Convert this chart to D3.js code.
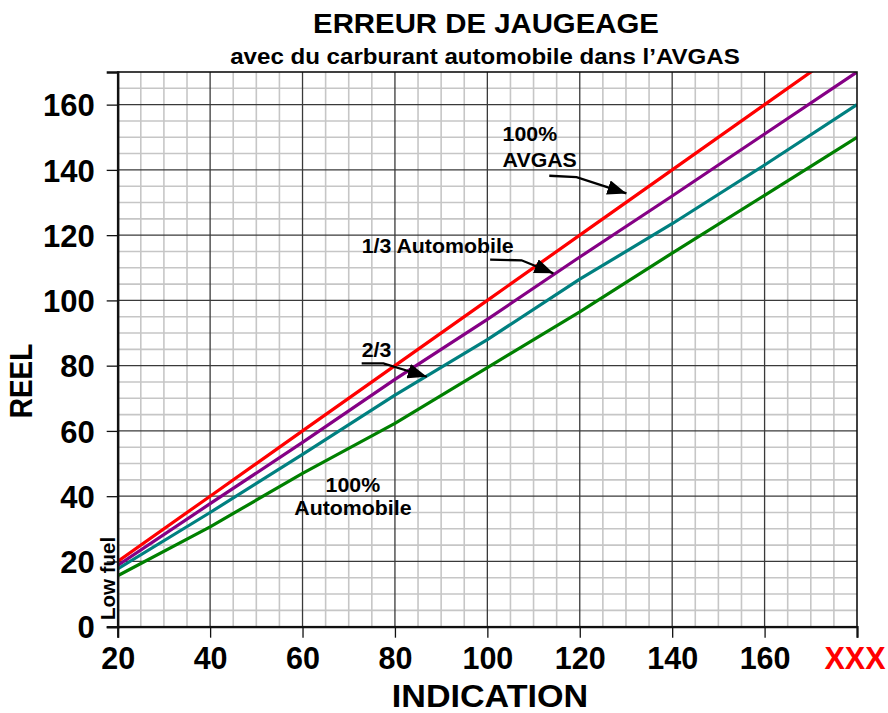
<!DOCTYPE html>
<html>
<head>
<meta charset="utf-8">
<script src="https://cdn.jsdelivr.net/npm/d3@7/dist/d3.min.js"></script>
<style>
  body { margin: 0; background: #fff; }
  text { font-family: Arial, "Liberation Sans", sans-serif; font-weight: bold; }
</style>
</head>
<body>
<svg id="chart" width="888" height="713"></svg>
<script>
// Gauge reading (INDICATION) vs actual fuel (REEL)
const indication = [20, 40, 60, 80, 100, 120, 140, 160, 180];
const avgas100   = [20, 40, 60, 80, 100, 120, 140, 160, 180];
const auto13     = [18.8, 37.7, 56.5, 75.8, 94.2, 113.3, 132, 151, 170];
const auto23     = [17.7, 35, 52.8, 71, 88, 106.5, 123.5, 141.5, 160];
const auto100    = [15.6, 30.6, 47, 62.3, 79.4, 96.5, 114.5, 132.2, 150];

const xTicks = [20, 40, 60, 80, 100, 120, 140, 160, 180];
const xTickLabels = ["20", "40", "60", "80", "100", "120", "140", "160", "XXX"];
const yTicks = [0, 20, 40, 60, 80, 100, 120, 140, 160];

const seriesNames = ["100% AVGAS", "1/3 Automobile", "2/3", "100% Automobile"];
const seriesValues = [avgas100, auto13, auto23, auto100];
const seriesColors = ["#ff0000", "#850085", "#008080", "#008000"];

// Annotation labels, in data units [indication, reel]
const labelText = ["100%", "AVGAS", "1/3 Automobile", "2/3", "100%", "Automobile"];
const labelPos  = [[103.3, 148.9], [103.3, 140.9], [72.8, 114.4], [72.8, 82.7], [70.9, 41.4], [70.9, 34.2]];
const labelAnchor = ["start", "start", "start", "start", "middle", "middle"];

// Leader arrows: start, elbow, tip (data units)
const arrows = [
  [[113.4, 138.2], [119.3, 137.8], [130.1, 132.8]],
  [[100.6, 112.5], [107.4, 112.3], [114.3, 108.3]],
  [[72.8, 80.7],   [77.5, 80.7],   [86.9, 76.6]]
];

const svg = d3.select("#chart");
const W = 888, H = 713;
const plot = { left: 117.7, right: 857, top: 72, bottom: 626.7 };

const x = d3.scaleLinear().domain([20, 180]).range([plot.left, plot.right]);
const y = d3.scaleLinear().domain([0, 170]).range([plot.bottom, plot.top]);

// Adjust the set width of a text run
function stretch(sel, k) {
  sel.each(function () {
    const w = this.getComputedTextLength();
    this.setAttribute("textLength", w * k);
    this.setAttribute("lengthAdjust", "spacingAndGlyphs");
  });
}

svg.append("rect").attr("width", W).attr("height", H).attr("fill", "#fff");

// Minor grid every 5 units
const minorX = d3.range(25, 180, 5).filter(v => v % 20 !== 0);
const minorY = d3.range(5, 170, 5).filter(v => v % 20 !== 0);
const grid = svg.append("g");
grid.selectAll("line.mx").data(minorX).join("line")
  .attr("x1", d => x(d)).attr("x2", d => x(d))
  .attr("y1", plot.top).attr("y2", plot.bottom)
  .attr("stroke", "#c6c6c6").attr("stroke-width", 1.6);
grid.selectAll("line.my").data(minorY).join("line")
  .attr("y1", d => y(d)).attr("y2", d => y(d))
  .attr("x1", plot.left).attr("x2", plot.right)
  .attr("stroke", "#c6c6c6").attr("stroke-width", 1.6);

// Major grid every 20 units
grid.selectAll("line.Mx").data(xTicks.slice(1, -1)).join("line")
  .attr("x1", d => x(d)).attr("x2", d => x(d))
  .attr("y1", plot.top).attr("y2", plot.bottom)
  .attr("stroke", "#3a3a3a").attr("stroke-width", 1.3);
grid.selectAll("line.My").data(yTicks.slice(1)).join("line")
  .attr("y1", d => y(d)).attr("y2", d => y(d))
  .attr("x1", plot.left).attr("x2", plot.right)
  .attr("stroke", "#3a3a3a").attr("stroke-width", 1.3);

// Curves
svg.append("clipPath").attr("id", "clip").append("rect")
  .attr("x", plot.left).attr("y", plot.top)
  .attr("width", plot.right - plot.left).attr("height", plot.bottom - plot.top);

const line = d3.line().x((d, i) => x(indication[i])).y(d => y(d));
svg.append("g").attr("clip-path", "url(#clip)")
  .selectAll("path").data(seriesValues).join("path")
  .attr("d", line)
  .attr("fill", "none")
  .attr("stroke", (d, i) => seriesColors[i])
  .attr("stroke-width", 3.2)
  .attr("stroke-linejoin", "round")
  .append("title").text((d, i) => seriesNames[i]);

// Frame
svg.append("rect")
  .attr("x", plot.left).attr("y", plot.top)
  .attr("width", plot.right - plot.left).attr("height", plot.bottom - plot.top)
  .attr("fill", "none").attr("stroke", "#111").attr("stroke-width", 1.6);

// Axes
const xAxis = d3.axisBottom(x).tickValues(xTicks).tickSize(11).tickPadding(9)
  .tickFormat((d, i) => xTickLabels[i]);
const gx = svg.append("g").attr("transform", `translate(0,${plot.bottom})`).call(xAxis);
gx.select(".domain").attr("stroke", "#111").attr("stroke-width", 2.2);
gx.selectAll(".tick line").attr("stroke", "#111").attr("stroke-width", 1.3);
gx.selectAll(".tick text")
  .attr("font-size", 30.5).attr("y", 42).attr("dy", 0)
  .attr("x", (d, i) => i === xTicks.length - 1 ? -2.5 : 0)
  .attr("fill", (d, i) => i === xTicks.length - 1 ? "#ff0000" : "#000");

const yAxis = d3.axisLeft(y).tickValues(yTicks).tickSize(11).tickPadding(12);
const gy = svg.append("g").attr("transform", `translate(${plot.left},0)`).call(yAxis);
gy.select(".domain").attr("stroke", "#111").attr("stroke-width", 2.4);
gy.selectAll(".tick line").attr("stroke", "#111").attr("stroke-width", 1.3);
gy.selectAll(".tick text").attr("font-size", 31).attr("dy", "0.36em").attr("fill", "#000");

// Titles
svg.append("text").attr("x", 486).attr("y", 33).attr("text-anchor", "middle")
  .attr("font-size", 28.5).text("ERREUR DE JAUGEAGE").call(stretch, 1.03);
svg.append("text").attr("x", 485).attr("y", 64).attr("text-anchor", "middle")
  .attr("font-size", 22).text("avec du carburant automobile dans l\u2019AVGAS").call(stretch, 1.095);

// Axis titles
svg.append("text").attr("x", 490).attr("y", 707).attr("text-anchor", "middle")
  .attr("font-size", 31).text("INDICATION").call(stretch, 1.1);
svg.append("text").attr("transform", "translate(31.5,381) rotate(-90)").attr("text-anchor", "middle")
  .attr("font-size", 31).text("REEL").call(stretch, 0.9);
svg.append("text").attr("transform", `translate(${plot.left - 3},620) rotate(-90)`)
  .attr("text-anchor", "start").attr("font-size", 20.5).text("Low fuel");

// Annotation labels
svg.append("g").selectAll("text").data(labelText).join("text")
  .attr("x", (d, i) => x(labelPos[i][0]))
  .attr("y", (d, i) => y(labelPos[i][1]))
  .attr("text-anchor", (d, i) => labelAnchor[i])
  .attr("font-size", 20.5)
  .text(d => d)
  .call(stretch, 1.04);

// Leader arrows
svg.append("defs").append("marker")
  .attr("id", "head").attr("viewBox", "0 0 18 14")
  .attr("refX", 18).attr("refY", 7)
  .attr("markerWidth", 19).attr("markerHeight", 15)
  .attr("markerUnits", "userSpaceOnUse").attr("orient", "auto")
  .append("path").attr("d", "M0,0 L18,7 L0,14 Z").attr("fill", "#000");

const arrowLine = d3.line().x(d => x(d[0])).y(d => y(d[1]));
svg.append("g").selectAll("path").data(arrows).join("path")
  .attr("d", arrowLine)
  .attr("fill", "none").attr("stroke", "#000").attr("stroke-width", 2.3)
  .attr("marker-end", "url(#head)");
</script>
</body>
</html>
